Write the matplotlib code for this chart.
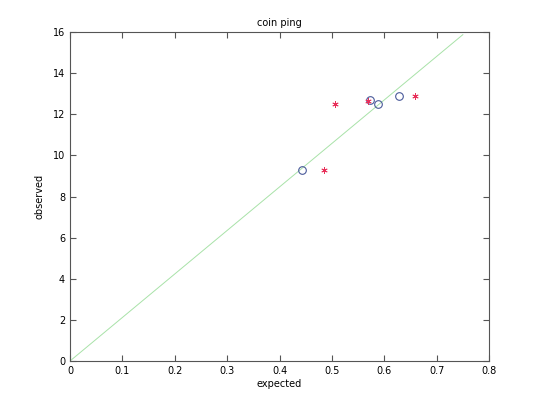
import numpy as np
import matplotlib
matplotlib.use("Agg")
import matplotlib.pyplot as plt

# fit line end points
line_x = [0.0, 0.75]
line_y = [0.0, 15.87]

# circles (blue)
circ_x = [0.443, 0.573, 0.588, 0.6275]
circ_y = [9.27, 12.68, 12.48, 12.89]

# stars (red)
star_x = [0.4856, 0.5066, 0.568, 0.6587]
star_y = [9.27, 12.48, 12.66, 12.89]

xticks = [0, 0.1, 0.2, 0.3, 0.4, 0.5, 0.6, 0.7, 0.8]
xticklabels = ["0", "0.1", "0.2", "0.3", "0.4", "0.5", "0.6", "0.7", "0.8"]
yticks = [0, 2, 4, 6, 8, 10, 12, 14, 16]

fig = plt.figure(figsize=(5.4, 4.05), dpi=100)
ax = fig.add_axes([0.1296, 0.1086, 0.7760, 0.8124])

ax.plot(line_x, line_y, '-', color="#a8e2a8", lw=0.7)
ax.plot(circ_x, circ_y, 'o', mfc='none', mec='#4a5a9a', ms=5.5, mew=0.8)
ax.plot(star_x, star_y, marker=(6, 2, 0), ls='none', color='#e8305a',
        ms=4.5, mew=0.6)

ax.set_xlim(0, 0.8)
ax.set_ylim(0, 16)
ax.set_xticks(xticks)
ax.set_xticklabels(xticklabels)
ax.set_yticks(yticks)
ax.tick_params(direction='in', top=True, right=True, labelsize=7, length=4,
               color='#555555')
for s in ax.spines.values():
    s.set_color('#555555')
    s.set_linewidth(0.8)

ax.set_title("coin ping", fontsize=7, pad=4)
ax.set_xlabel("expected", fontsize=7, labelpad=2)
ax.set_ylabel("observed", fontsize=7, labelpad=6)

fig.savefig("out.png", dpi=100)
